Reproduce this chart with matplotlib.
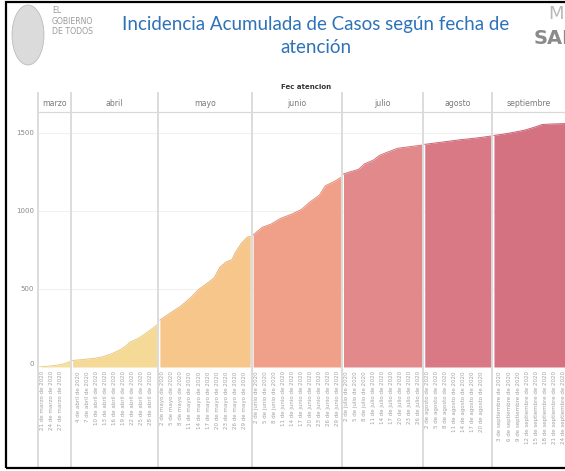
import numpy as np
import matplotlib
matplotlib.use("Agg")
import matplotlib.pyplot as plt
from matplotlib.patches import Ellipse, Rectangle

# ---------------- data ----------------
months = ['marzo', 'abril', 'mayo', 'junio', 'julio', 'agosto', 'septiembre']
first_day = [20, 2, 1, 1, 1, 1, 1]
n_points = [11, 29, 31, 30, 27, 23, 30]
month_colors = ['#f6e0a0', '#f5d996', '#f6c68a', '#f0a088', '#e28a8b', '#d97985', '#d57282']
edge_colors = ['#e9cf86', '#e9ca80', '#eab374', '#e38b74', '#d47479', '#cb6573', '#c75f70']

marzo_days = [20, 23, 26, 28, 30]
marzo_vals = [1, 5, 12, 20, 33]
abril_days = [2, 5, 9, 12, 15, 18, 20, 21, 24, 27, 30]
abril_vals = [42, 47, 55, 65, 85, 112, 140, 158, 185, 225, 268]
mayo_days = [1, 4, 8, 11, 14, 17, 19, 21, 23, 25, 26, 28, 30, 31]
mayo_vals = [300, 340, 390, 440, 498, 540, 570, 640, 672, 688, 730, 790, 830, 835]
junio_days = [1, 4, 7, 10, 14, 17, 20, 23, 25, 28, 30]
junio_vals = [845, 894, 915, 950, 980, 1008, 1058, 1100, 1160, 1188, 1212]
julio_days = [1, 3, 6, 8, 11, 13, 16, 19, 23, 27]
julio_vals = [1235, 1248, 1265, 1300, 1325, 1355, 1378, 1400, 1410, 1420]
agosto_days = [1, 5, 9, 13, 17, 20, 23]
agosto_vals = [1425, 1435, 1445, 1455, 1463, 1470, 1478]
sept_days = [1, 4, 7, 11, 14, 16, 17, 20, 25, 30]
sept_vals = [1482, 1490, 1500, 1515, 1532, 1545, 1552, 1555, 1558, 1565]

marzo_ticks = [21, 24, 27]
abril_ticks = [4, 7, 10, 13, 16, 19, 22, 25, 28]
mayo_ticks = [2, 5, 8, 11, 14, 17, 20, 23, 26, 29]
junio_ticks = [2, 5, 8, 11, 14, 17, 20, 23, 26, 29]
julio_ticks = [2, 5, 8, 11, 14, 17, 20, 23, 26]
agosto_ticks = [2, 5, 8, 11, 14, 17, 20]
sept_ticks = [3, 6, 9, 12, 15, 18, 21, 24]

y_ticks = [0, 500, 1000, 1500]

series_days = [marzo_days, abril_days, mayo_days, junio_days, julio_days, agosto_days, sept_days]
series_vals = [marzo_vals, abril_vals, mayo_vals, junio_vals, julio_vals, agosto_vals, sept_vals]
series_ticks = [marzo_ticks, abril_ticks, mayo_ticks, junio_ticks, julio_ticks, agosto_ticks, sept_ticks]

title = 'Incidencia Acumulada de Casos según fecha de\natención'

# ---------------- layout ----------------
W, H = 565, 471
fig = plt.figure(figsize=(W / 100, H / 100), dpi=100)
fig.patch.set_facecolor('white')

def fbox(x0, y0, x1, y1):
    return [x0 / W, 1 - y1 / H, (x1 - x0) / W, (y1 - y0) / H]

ax = fig.add_axes(fbox(38, 112, 565, 367))
panel_start = np.concatenate([[0], np.cumsum(n_points)])
x_max = 175.1
ax.set_xlim(0, x_max)
ax.set_ylim(0, 1632)

for yv in y_ticks[1:]:
    ax.axhline(yv, color='#f0f0f0', lw=0.8, zorder=0)

tick_pos, tick_lab = [], []
for m in range(len(months)):
    d = np.array(series_days[m])
    x = panel_start[m] + (d - first_day[m]) + 0.5
    v = np.array(series_vals[m])
    ax.fill_between(x, 0, v, color=month_colors[m], lw=0, zorder=1)
    ax.plot(x, v, color=edge_colors[m], lw=0.7, zorder=2)
    for t in series_ticks[m]:
        tick_pos.append(panel_start[m] + (t - first_day[m]) + 0.5)
        tick_lab.append(f'{t} de {months[m]} de 2020')

# panel separators (extend into header and tick-label area)
top_ext = (367 - 93) / 255
bot_ext = (367 - 468) / 255
for m in range(len(months)):
    ax.axvline(panel_start[m], ymin=bot_ext, ymax=top_ext, color='#d9d9d9',
               lw=1.3, clip_on=False, zorder=3)
    xc = (panel_start[m] + min(panel_start[m + 1], x_max)) / 2
    ax.text(xc, (367 - 103) / 255, months[m], transform=ax.get_xaxis_transform(),
            ha='center', va='center', fontsize=5.6, color='#7a7a7a')

ax.text(x_max * 0.508, (367 - 87) / 255, 'Fec atencion', transform=ax.get_xaxis_transform(),
        ha='center', va='center', fontsize=5, fontweight='bold', color='#333333')

for s in ['left', 'right', 'bottom']:
    ax.spines[s].set_visible(False)
ax.spines['top'].set_color('#d9d9d9')
ax.spines['top'].set_linewidth(0.9)

ax.set_xticks(tick_pos)
ax.set_xticklabels(tick_lab, rotation=90, fontsize=4.0, color='#a0a0a0')
ax.set_yticks(y_ticks)
ax.set_yticklabels([str(t) for t in y_ticks], fontsize=5, color='#8a8a8a')
ax.tick_params(length=0, pad=3)
for lbl in ax.get_yticklabels():
    if lbl.get_text() == '0':
        lbl.set_va('bottom')

# title
fig.text(316 / W, 1 - 36 / H, title, ha='center', va='center', fontsize=13.5,
         family='Lato', color='#2e72b8', linespacing=1.45)

# left logo (text part) and emblem placeholder
fig.text(52 / W, 1 - 21 / H, 'EL\nGOBIERNO\nDE TODOS', ha='left', va='center', fontsize=5.6,
         color='#9a9a9a', linespacing=1.25)
fig.patches.append(Ellipse((28 / W, 1 - 35 / H), 32 / W, 60 / H, transform=fig.transFigure,
                           facecolor='#d3d3d3', edgecolor='#b0b0b0', lw=0.6, alpha=0.8))
# right logo (cut off at the image edge as in the source)
fig.text(548 / W, 1 - 14 / H, 'M', ha='left', va='center', fontsize=13, color='#b8b8b8')
fig.text(534 / W, 1 - 38 / H, 'SAL', ha='left', va='center', fontsize=14, fontweight='bold',
         color='#8a8a8a')

# frame border
fig.patches.append(Rectangle((6 / W, 1 - 468 / H), (W + 10) / W, 466 / H, transform=fig.transFigure,
                             fill=False, edgecolor='black', lw=1.6))

fig.savefig('out.png', dpi=100, facecolor='white')
